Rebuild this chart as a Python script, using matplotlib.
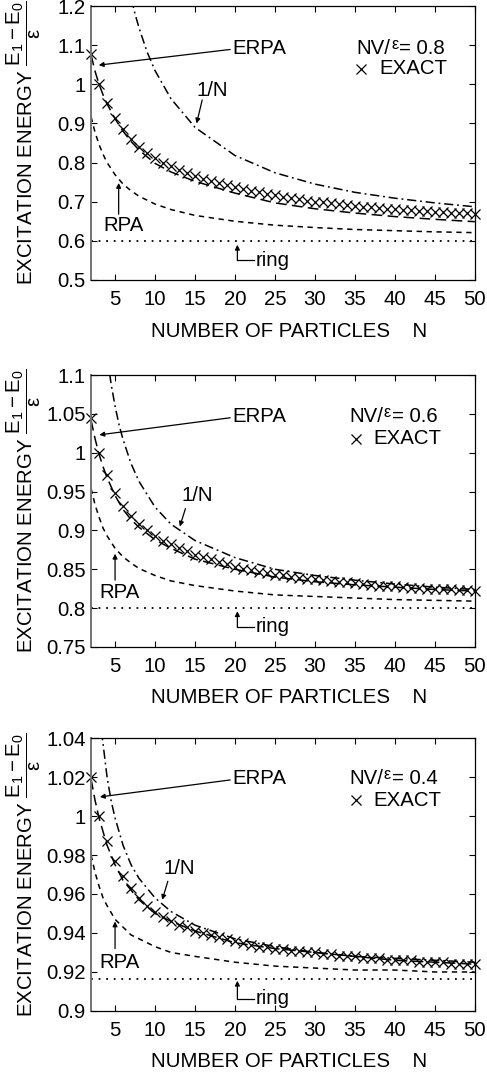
import numpy as np
import matplotlib
matplotlib.use("Agg")
import matplotlib.pyplot as plt

plt.rcParams['font.family'] = ['Liberation Sans', 'DejaVu Sans']
plt.rcParams['mathtext.fontset'] = 'custom'
plt.rcParams['mathtext.rm'] = 'Liberation Sans'
plt.rcParams['mathtext.it'] = 'Liberation Sans'
plt.rcParams['mathtext.bf'] = 'Liberation Sans:bold'

# Interaction strength of each panel
chi_labels = ['0.8', '0.6', '0.4']

# Exact excitation energies, one point per particle number
n_exact = list(range(2, 51))
exact_08 = [1.078, 1.000, 0.952, 0.915, 0.885, 0.860, 0.840, 0.824, 0.811, 0.800,
            0.790, 0.781, 0.773, 0.766, 0.759, 0.753, 0.747, 0.742, 0.737, 0.732,
            0.728, 0.724, 0.720, 0.716, 0.712, 0.709, 0.706, 0.703, 0.700, 0.698,
            0.696, 0.693, 0.691, 0.689, 0.687, 0.686, 0.684, 0.682, 0.681, 0.679,
            0.678, 0.677, 0.675, 0.674, 0.673, 0.672, 0.671, 0.670, 0.668]
exact_06 = [1.045, 1.000, 0.971, 0.948, 0.931, 0.918, 0.908, 0.900, 0.893, 0.887,
            0.882, 0.877, 0.873, 0.869, 0.866, 0.863, 0.860, 0.857, 0.853, 0.851,
            0.849, 0.847, 0.845, 0.843, 0.842, 0.840, 0.839, 0.838, 0.837, 0.836,
            0.835, 0.834, 0.833, 0.832, 0.831, 0.830, 0.829, 0.828, 0.828, 0.827,
            0.826, 0.826, 0.825, 0.825, 0.824, 0.824, 0.823, 0.823, 0.822]
exact_04 = [1.020, 1.000, 0.987, 0.977, 0.969, 0.963, 0.958, 0.954, 0.951, 0.948,
            0.946, 0.944, 0.943, 0.941, 0.940, 0.939, 0.938, 0.937, 0.936, 0.935,
            0.934, 0.933, 0.933, 0.932, 0.932, 0.931, 0.931, 0.930, 0.930, 0.929,
            0.929, 0.928, 0.928, 0.928, 0.927, 0.927, 0.927, 0.926, 0.926, 0.926,
            0.926, 0.925, 0.925, 0.925, 0.925, 0.924, 0.924, 0.924, 0.924]

# RPA and ERPA curves
n_curve = [2, 2.5, 3, 3.5, 4, 5, 6, 7, 8, 10, 12, 15, 20, 25, 30, 35, 40, 45, 50]
rpa_08 = [0.917, 0.877, 0.846, 0.821, 0.800, 0.769, 0.745, 0.728, 0.714, 0.694,
          0.680, 0.665, 0.650, 0.640, 0.634, 0.629, 0.626, 0.623, 0.621]
rpa_06 = [0.954, 0.933, 0.917, 0.903, 0.893, 0.877, 0.866, 0.858, 0.851, 0.842,
          0.835, 0.829, 0.822, 0.817, 0.815, 0.813, 0.811, 0.810, 0.809]
rpa_04 = [0.980, 0.971, 0.964, 0.958, 0.954, 0.947, 0.943, 0.939, 0.937, 0.933,
          0.930, 0.928, 0.925, 0.923, 0.922, 0.921, 0.921, 0.920, 0.920]
erpa_08 = [1.075, 1.033, 1.000, 0.973, 0.950, 0.912, 0.880, 0.854, 0.832, 0.798,
           0.776, 0.752, 0.722, 0.697, 0.682, 0.671, 0.662, 0.655, 0.649]
erpa_06 = [1.042, 1.018, 0.998, 0.982, 0.968, 0.945, 0.927, 0.914, 0.904, 0.888,
           0.877, 0.863, 0.850, 0.840, 0.834, 0.830, 0.827, 0.824, 0.822]
erpa_04 = [1.019, 1.008, 0.999, 0.992, 0.985, 0.975, 0.967, 0.962, 0.957, 0.950,
           0.946, 0.941, 0.935, 0.932, 0.930, 0.928, 0.926, 0.925, 0.924]

# 1/N expansion curves
n_inv_08 = [7, 7.5, 8, 9, 10, 12, 15, 20, 25, 30, 35, 40, 45, 50]
inv_08 = [1.221, 1.180, 1.144, 1.083, 1.035, 0.963, 0.890, 0.818, 0.774, 0.745,
          0.724, 0.709, 0.697, 0.687]
n_inv_06 = [4, 4.5, 5, 5.5, 6, 7, 8, 10, 12, 15, 20, 25, 30, 35, 40, 45, 50]
inv_06 = [1.125, 1.089, 1.060, 1.036, 1.017, 0.986, 0.963, 0.930, 0.908, 0.887,
          0.865, 0.850, 0.842, 0.836, 0.831, 0.827, 0.824]
n_inv_04 = [3, 3.5, 4, 4.5, 5, 6, 7, 8, 10, 12, 15, 20, 25, 30, 35, 40, 45, 50]
inv_04 = [1.053, 1.037, 1.020, 1.008, 0.999, 0.985, 0.975, 0.968, 0.958, 0.951,
          0.944, 0.937, 0.933, 0.930, 0.928, 0.927, 0.926, 0.925]

# N -> infinity (ring) limit
ring = [0.6, 0.8, 0.9165]

# y ranges and ticks
ylims = [(0.5, 1.2), (0.75, 1.1), (0.9, 1.04)]
yticks = [[0.5, 0.6, 0.7, 0.8, 0.9, 1.0, 1.1, 1.2],
          [0.75, 0.8, 0.85, 0.9, 0.95, 1.0, 1.05, 1.1],
          [0.9, 0.92, 0.94, 0.96, 0.98, 1.0, 1.02, 1.04]]
xticks = [5, 10, 15, 20, 25, 30, 35, 40, 45, 50]

exact_all = [exact_08, exact_06, exact_04]
rpa_all = [rpa_08, rpa_06, rpa_04]
erpa_all = [erpa_08, erpa_06, erpa_04]
inv_n_all = [n_inv_08, n_inv_06, n_inv_04]
inv_all = [inv_08, inv_06, inv_04]

# label positions in data units for each panel
ann = [
    dict(erpa_txt=(19.7, 1.092), erpa_from=(19.4, 1.089), erpa_to=(2.96, 1.049),
         inv_txt=(15.2, 0.985), inv_from=(15.9, 0.960), inv_to=(15.2, 0.900),
         rpa_txt=(3.5, 0.640), rpa_from=(5.45, 0.668), rpa_to=(5.45, 0.748),
         ring_x=20.3, ring_y=(0.551, 0.590), ring_txt=22.6,
         nv=(35.2, 1.092), ex=(35.8, 1.040)),
    dict(erpa_txt=(19.7, 1.046), erpa_from=(19.4, 1.045), erpa_to=(3.04, 1.023),
         inv_txt=(13.3, 0.945), inv_from=(13.8, 0.928), inv_to=(13.1, 0.905),
         rpa_txt=(3.0, 0.820), rpa_from=(5.0, 0.836), rpa_to=(5.0, 0.870),
         ring_x=20.3, ring_y=(0.776, 0.796), ring_txt=22.6,
         nv=(34.3, 1.046), ex=(35.1, 1.018)),
    dict(erpa_txt=(19.7, 1.019), erpa_from=(19.4, 1.0185), erpa_to=(3.1, 1.0098),
         inv_txt=(11.1, 0.973), inv_from=(11.6, 0.9665), inv_to=(10.9, 0.957),
         rpa_txt=(3.0, 0.925), rpa_from=(5.0, 0.932), rpa_to=(5.0, 0.9459),
         ring_x=20.3, ring_y=(0.9063, 0.9155), ring_txt=22.6,
         nv=(34.3, 1.019), ex=(35.1, 1.008)),
]

fig = plt.figure(figsize=(4.87, 10.74), dpi=100)
rects = [[0.187, 0.7393, 0.788, 0.2551],
         [0.187, 0.3976, 0.788, 0.2532],
         [0.187, 0.0587, 0.788, 0.2541]]

fs = 14.7
arr = dict(arrowstyle='-|>', lw=0.9, color='k', mutation_scale=7,
           shrinkA=0, shrinkB=0)

for i in range(3):
    ax = fig.add_axes(rects[i])
    a = ann[i]

    ax.plot([2, 50], [ring[i], ring[i]], color='k', lw=1.3,
            linestyle=(0, (1, 3.2)))
    ax.plot(n_curve, rpa_all[i], color='k', lw=1.1, linestyle=(0, (3.5, 3)))
    ax.plot(n_curve, erpa_all[i], color='k', lw=1.1, linestyle=(0, (7, 3.5)))
    ax.plot(inv_n_all[i], inv_all[i], color='k', lw=1.1,
            linestyle=(0, (6, 2.5, 1.2, 2.5)))
    ax.plot(n_exact, exact_all[i], 'x', color='k', ms=7.5, mew=0.9,
            clip_on=False)

    ax.set_xlim(2, 50)
    ax.set_ylim(*ylims[i])
    ax.set_xticks(xticks)
    ax.set_yticks(yticks[i])
    ax.set_yticklabels(['%g' % t for t in yticks[i]])
    ax.tick_params(direction='in', length=4, width=0.8, top=True, right=True,
                   labelsize=fs)
    ax.tick_params(axis='x', pad=7)
    ax.tick_params(axis='y', pad=4)
    for s in ax.spines.values():
        s.set_linewidth(0.9)
    ax.spines['left'].set_color('0.45')
    ax.spines['left'].set_linewidth(1.4)

    ax.set_xlabel('NUMBER OF PARTICLES    N', fontsize=fs)
    ax.xaxis.set_label_coords(0.515, -0.152)
    ax.set_ylabel(r'EXCITATION ENERGY $\dfrac{\mathrm{E}_1 - \mathrm{E}_0}{\varepsilon}$',
                  fontsize=fs)
    ax.yaxis.set_label_coords(-0.125, 0.5)

    # annotations
    ax.text(*a['erpa_txt'], 'ERPA', fontsize=fs, va='center', ha='left')
    ax.annotate('', xy=a['erpa_to'], xytext=a['erpa_from'], arrowprops=arr)
    ax.text(*a['inv_txt'], '1/N', fontsize=fs, va='center', ha='left')
    ax.annotate('', xy=a['inv_to'], xytext=a['inv_from'], arrowprops=arr)
    ax.text(*a['rpa_txt'], 'RPA', fontsize=fs, va='center', ha='left')
    ax.annotate('', xy=a['rpa_to'], xytext=a['rpa_from'], arrowprops=arr)
    y0, y1 = a['ring_y']
    ax.plot([a['ring_x'], a['ring_txt'] - 0.2], [y0, y0], color='k', lw=0.9)
    ax.annotate('', xy=(a['ring_x'], y1), xytext=(a['ring_x'], y0),
                arrowprops=arr)
    ax.text(a['ring_txt'], y0, 'ring', fontsize=fs, va='center', ha='left')

    # NV/eps = value, with a smaller raised epsilon
    t1 = ax.text(*a['nv'], 'NV/', fontsize=fs, va='center', ha='left')
    t2 = ax.annotate('ε', xy=(1, 0.5), xycoords=t1, xytext=(0.5, 3),
                     textcoords='offset points', fontsize=fs * 0.8,
                     va='center', ha='left')
    ax.annotate('= ' + chi_labels[i], xy=(1, 0), xycoords=(t2, t1),
                xytext=(0.5, 0), textcoords='offset points', fontsize=fs,
                va='bottom', ha='left')
    ax.plot([a['ex'][0]], [a['ex'][1]], 'x', color='k', ms=7.5, mew=0.9)
    ax.text(a['ex'][0] + 2.2, a['ex'][1], 'EXACT', fontsize=fs, va='center',
            ha='left')

fig.savefig('out.png', dpi=100)
